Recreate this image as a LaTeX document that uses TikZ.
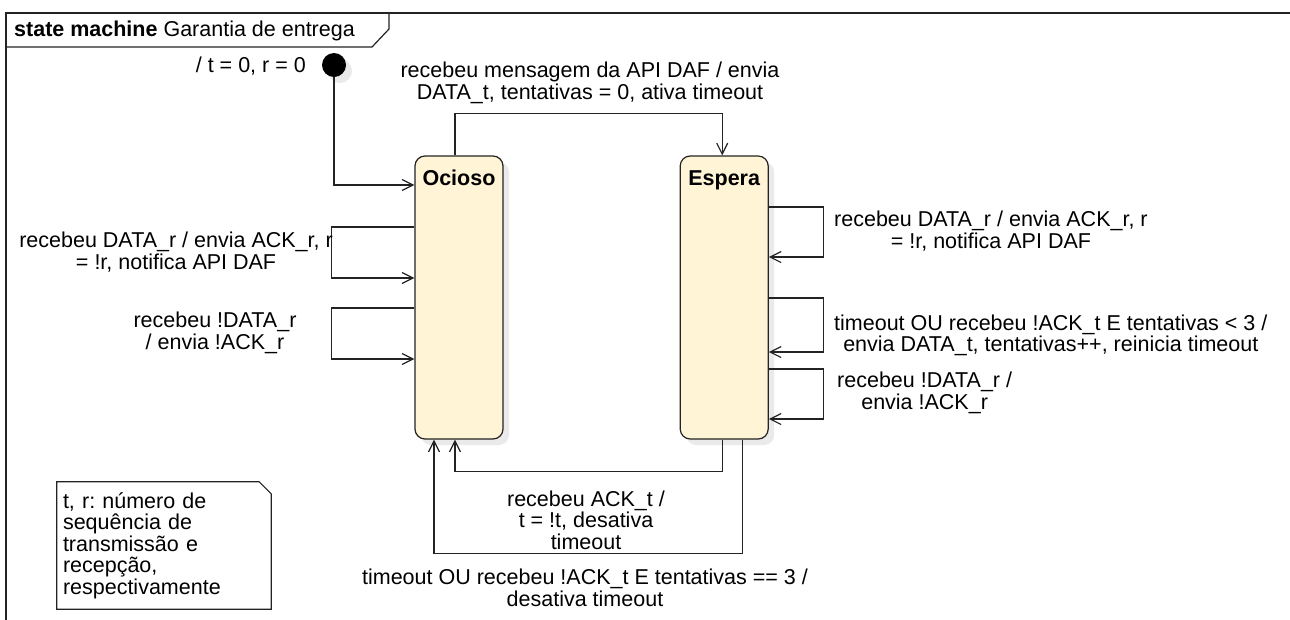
\documentclass[tikz,border=0pt]{standalone}
\usepackage{fontspec}
\setmainfont{Liberation Sans}
\usetikzlibrary{positioning,calc,arrows.meta,shadows}
\frenchspacing

\definecolor{statefill}{RGB}{255,244,214}
\definecolor{shadowgray}{RGB}{234,234,234}
\definecolor{linegray}{RGB}{35,35,35}

\begin{document}
\begin{tikzpicture}[x=1pt,y=-1pt,
    font=\fontsize{21.5}{21.5}\selectfont,
    state/.style={draw=linegray, fill=statefill, rounded corners=10pt, line width=1.2pt,
        minimum width=88pt, inner xsep=0pt, inner ysep=18pt, text height=11.5pt, text depth=235.5pt,
        font=\fontsize{21.5}{21.5}\selectfont\bfseries,
        drop shadow={shadow xshift=6pt, shadow yshift=-6pt, fill=shadowgray, opacity=1}},
    startdot/.style={circle, fill=black, minimum size=24pt, inner sep=0pt,
        drop shadow={shadow xshift=6pt, shadow yshift=-6pt, fill=shadowgray, opacity=1}},
    trans/.style={draw=linegray, line width=1.2pt, -{Straight Barb[length=11pt,width=11pt]}},
    lbl/.style={align=center, inner sep=0pt},
]
    \useasboundingbox (0,0) rectangle (1290,619);

    % Frame
    \draw[linegray, line width=1.2pt] (6,640) -- (6,13) -- (1300,13);
    \draw[linegray, line width=1.2pt] (6,47) -- (372,47) -- (389,29) -- (389,13);
    \node[anchor=west, inner sep=0pt] (title) at (14,31) {\textbf{state machine} Garantia de entrega};

    % Initial state
    \node[startdot] (start) at (334,65) {};
    \node[lbl, anchor=east] (lblstart) at (306,66) {/ t = 0, r = 0};

    % States
    \node[state] (ocioso) at (459,297.5) {Ocioso};
    \node[state, right=176pt of ocioso] (espera) {Espera};

    % Transitions
    \draw[trans] (start.south) |- ([yshift=112.5pt]ocioso.west);
    \draw[trans] ([xshift=-4pt]ocioso.north) -- ++(0,-42) -| ([xshift=-2pt]espera.north);
    \node[lbl] (lbltop) at (590,83) {recebeu mensagem da API DAF / envia\\DATA\_t, tentativas = 0, ativa timeout};

    % Self loops on Ocioso
    \draw[trans] ([yshift=70.5pt]ocioso.west) -- ++(-83,0) |- ([yshift=19.5pt]ocioso.west);
    \draw[trans] ([yshift=-10.5pt]ocioso.west) -- ++(-83,0) |- ([yshift=-61.5pt]ocioso.west);
    \node[lbl, anchor=east] (lblrecv) at (333,252) {recebeu DATA\_r / envia ACK\_r, r\\= !r, notifica API DAF};
    \node[lbl] (lblnrecv) at (215,333) {recebeu !DATA\_r\\/ envia !ACK\_r};

    % Self loops on Espera
    \foreach \a/\b in {90.5/40.5, -0.5/-54.5, -71.5/-121.5}
        \draw[trans] ([yshift=\a pt]espera.east) -- ++(55,0) |- ([yshift=\b pt]espera.east);
    \node[lbl, anchor=west] (lblerecv) at (834,231) {recebeu DATA\_r / envia ACK\_r, r\\= !r, notifica API DAF};
    \node[lbl, anchor=west] (lblretry) at (834,335.5) {timeout OU recebeu !ACK\_t E tentativas < 3 /\\envia DATA\_t, tentativas++, reinicia timeout};
    \node[lbl, anchor=west] (lblenrecv) at (837,393) {recebeu !DATA\_r /\\envia !ACK\_r};

    % Back to Ocioso
    \draw[trans] ([xshift=-2pt]espera.south) -- ++(0,32) -| ([xshift=-4pt]ocioso.south);
    \draw[trans] ([xshift=18pt]espera.south) -- ++(0,114) -| ([xshift=-25pt]ocioso.south);
    \node[lbl] (lblack) at (586,520) {recebeu ACK\_t /\\t = !t, desativa\\timeout};
    \node[lbl] (lblfail) at (585,588) {timeout OU recebeu !ACK\_t E tentativas == 3 /\\desativa timeout};

    % Note
    \node[align=left, text width=202pt, inner sep=6pt, minimum height=127pt] (note) at (164,545.5)
        {t, r: número de\\sequência de\\transmissão e\\recepção,\\respectivamente};
    \draw[linegray, line width=1.2pt] (note.south west) -- (note.north west) -- ([xshift=-12pt]note.north east)
        -- ([yshift=-12pt]note.north east) -- (note.south east) -- cycle;
\end{tikzpicture}
\end{document}
